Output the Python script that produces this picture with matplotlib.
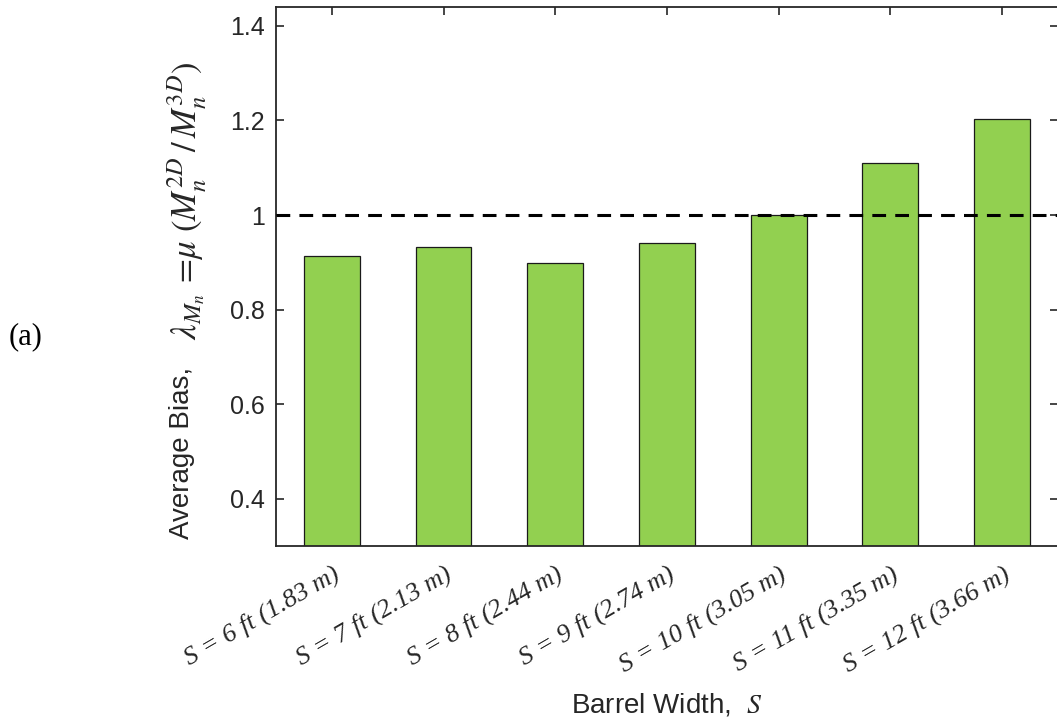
import matplotlib
matplotlib.use('Agg')
import matplotlib.pyplot as plt
import numpy as np

# Data
widths = ['6', '7', '8', '9', '10', '11', '12']
metres = ['1.83', '2.13', '2.44', '2.74', '3.05', '3.35', '3.66']
bias = [0.913, 0.933, 0.898, 0.941, 1.000, 1.110, 1.203]
yticks = [0.4, 0.6, 0.8, 1.0, 1.2, 1.4]
ytick_labels = ['0.4', '0.6', '0.8', '1', '1.2', '1.4']

plt.rcParams['font.family'] = ['Liberation Sans', 'DejaVu Sans']
plt.rcParams['mathtext.fontset'] = 'stix'

W, H = 1057, 723
fig = plt.figure(figsize=(W / 100, H / 100), dpi=100)
ax = fig.add_axes([276 / W, 1 - 546 / H, 782 / W, 539 / H])

x = np.arange(1, len(bias) + 1)
ax.bar(x, bias, width=0.5, color='#92D050', edgecolor='#1a1a1a', linewidth=0.9, zorder=2)
ax.axhline(1.0, color='black', linestyle=(0, (4.5, 3)), linewidth=2.2, zorder=3)

ax.set_xlim(0.5, 7.5)
ax.set_ylim(0.3, 1.44)
ax.set_yticks(yticks)
ax.set_yticklabels(ytick_labels, fontsize=18)
ax.set_xticks(x)
labels = [f'S = {w} ft ({m} m)' for w, m in zip(widths, metres)]
ax.set_xticklabels(labels, rotation=30, ha='right', va='top', rotation_mode='anchor',
                   fontsize=19, family='Liberation Serif', style='italic')

ax.tick_params(direction='in', length=6, width=1.2, top=True, right=True,
               colors='#262626', labelcolor='#262626')
ax.tick_params(axis='y', pad=8)
ax.tick_params(axis='x', pad=12)
for s in ax.spines.values():
    s.set_linewidth(1.3)
    s.set_color('#262626')

ax.set_xlabel(r'Barrel Width,  $S$', fontsize=20, color='#262626')
ax.xaxis.set_label_coords(0.5, (546 - 691) / 539)

# y label: sans text followed by a larger math part, like the original
fig.text(189 / W, 1 - 539 / H, 'Average Bias,', fontsize=20, color='#262626',
         rotation=90, rotation_mode='anchor', ha='left', va='baseline')
fig.text(197 / W, 1 - 62 / H,
         r'$\lambda_{M_n}\,=\!\mu\ (M_n^{2D}\,/\,M_n^{3D})$',
         fontsize=25, color='#262626',
         rotation=90, rotation_mode='anchor', ha='right', va='baseline')

fig.text(26 / W, 1 - 337 / H, '(a)', fontsize=22, family='Liberation Serif',
         ha='center', va='center')

plt.savefig('out.png', dpi=100)
plt.close()
